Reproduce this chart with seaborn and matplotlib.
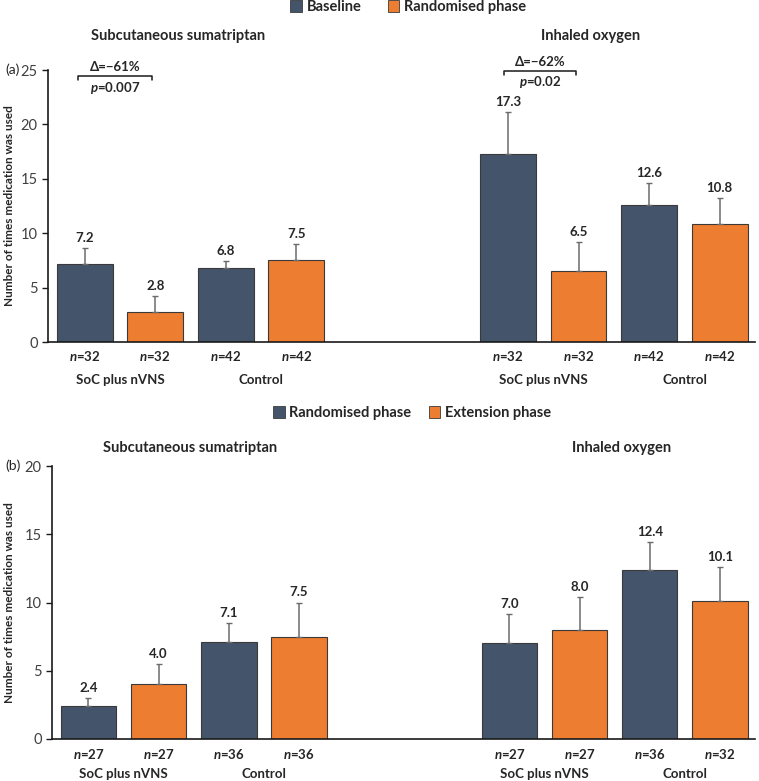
import matplotlib
matplotlib.use("Agg")
import matplotlib.pyplot as plt
import seaborn as sns
import pandas as pd
from matplotlib.patches import Patch

sns.set_style("white")
plt.rcParams['font.family'] = ['Lato', 'DejaVu Sans']
plt.rcParams['mathtext.fontset'] = 'custom'
plt.rcParams['mathtext.rm'] = 'Lato'
plt.rcParams['mathtext.it'] = 'Lato:italic:bold'
plt.rcParams['mathtext.bf'] = 'Lato:bold'

# ---- data ----
positions = [0, 1, 2, 3, 6, 7, 8, 9]
group_names = ["SoC plus nVNS", "Control", "SoC plus nVNS", "Control"]
group_pos = [0.5, 2.5, 6.5, 8.5]

top_series = ["Baseline", "Randomised phase"] * 4
top_values = [7.2, 2.8, 6.8, 7.5, 17.3, 6.5, 12.6, 10.8]
top_err = [1.4, 1.4, 0.65, 1.5, 3.8, 2.7, 2.0, 2.4]
top_n = ["32", "32", "42", "42", "32", "32", "42", "42"]

bot_series = ["Randomised phase", "Extension phase"] * 4
bot_values = [2.4, 4.0, 7.1, 7.5, 7.0, 8.0, 12.4, 10.1]
bot_err = [0.6, 1.5, 1.4, 2.5, 2.15, 2.4, 2.0, 2.5]
bot_n = ["27", "27", "36", "36", "27", "27", "36", "32"]

DARK = "#44546A"
ORANGE = "#ED7D31"

fig = plt.figure(figsize=(7.59, 7.81), dpi=100)
ax1 = fig.add_axes([48/759, 1-342/781, 707/759, 272/781])
ax2 = fig.add_axes([52/759, 1-739/781, 703/759, 273/781])


def draw(ax, series, values, err, ns, names, ymax, nofs, gofs):
    df = pd.DataFrame({"pos": positions, "value": values, "series": series})
    sns.barplot(data=df, x="pos", y="value", hue="series", native_scale=True,
                palette=[DARK, ORANGE], hue_order=names, dodge=False,
                saturation=1, width=0.79, edgecolor="#3a3a3a", linewidth=0.8,
                legend=False, ax=ax)
    ax.errorbar(positions, values, yerr=[[0]*len(values), err], fmt="none",
                ecolor="#6b6b6b", elinewidth=1.1, capsize=2.5, capthick=1.0,
                zorder=1)
    for x, v, e, n in zip(positions, values, err, ns):
        ax.annotate(f"{v:.1f}", (x, v + e), xytext=(0, 3),
                    textcoords="offset points", ha="center", va="bottom",
                    fontsize=9.5, fontweight="bold", color="#262626")
        ax.annotate(r"$\it{n}$" + f"={n}", (x, 0),
                    xycoords=("data", "axes fraction"),
                    xytext=(0, -nofs), textcoords="offset points",
                    ha="center", va="center", fontsize=9.5,
                    fontweight="bold", color="#262626")
    for gx, gn in zip(group_pos, group_names):
        ax.annotate(gn, (gx, 0), xycoords=("data", "axes fraction"),
                    xytext=(0, -gofs), textcoords="offset points",
                    ha="center", va="center", fontsize=9.5,
                    fontweight="bold", color="#262626")
    ax.set_xlim(-0.52, 9.5)
    ax.set_ylim(0, ymax)
    ax.set_yticks(range(0, ymax + 1, 5))
    ax.set_xticks([])
    ax.set_xlabel("")
    ax.set_ylabel("")
    sns.despine(ax=ax)
    for s in ["left", "bottom"]:
        ax.spines[s].set_color("#1a1a1a")
        ax.spines[s].set_linewidth(1.2)
    ax.tick_params(axis="y", direction="out", length=4, width=1,
                   color="#1a1a1a", labelsize=10.5, labelcolor="#404040",
                   left=True)


draw(ax1, top_series, top_values, top_err, top_n,
     ["Baseline", "Randomised phase"], 25, 10, 27)
draw(ax2, bot_series, bot_values, bot_err, bot_n,
     ["Randomised phase", "Extension phase"], 20, 11, 25)


def bracket(ax, x0, x1, y, dtxt, ptxt, dy_up, dy_dn):
    ax.plot([x0, x0, x1, x1], [y - 0.35, y, y, y - 0.35], color="#1a1a1a",
            lw=1.1, clip_on=False)
    ax.text((x0 + x1) / 2, y + dy_up, dtxt, ha="center", va="center",
            fontsize=9.5, fontweight="bold", color="#262626", clip_on=False)
    ax.text((x0 + x1) / 2, y - dy_dn, ptxt, ha="center", va="center",
            fontsize=9.5, fontweight="bold", color="#262626", clip_on=False)


bracket(ax1, -0.1, 0.96, 24.45, "Δ=−61%", r"$\it{p}$=0.007", 0.85, 1.15)
bracket(ax1, 5.94, 6.96, 24.9, "Δ=−62%", r"$\it{p}$=0.02", 0.85, 1.0)

# titles
for x, y, t in [(178, 36, "Subcutaneous sumatriptan"), (591, 36, "Inhaled oxygen"),
                (190, 448, "Subcutaneous sumatriptan"), (622, 448, "Inhaled oxygen")]:
    fig.text(x/759, 1-y/781, t, ha="center", va="center", fontsize=10.5,
             fontweight="bold", color="#262626")

fig.text(13/759, 1-70/781, "(a)", ha="center", va="center", fontsize=10,
         color="#262626")
fig.text(13/759, 1-466/781, "(b)", ha="center", va="center", fontsize=10,
         color="#262626")
for yc in [(70+342)/2, (466+739)/2]:
    fig.text(10/759, 1-yc/781, "Number of times medication was used",
             rotation=90, ha="center", va="center", fontsize=8.5,
             fontweight="bold", color="#262626")

# legends
fig.legend(handles=[Patch(facecolor=DARK, edgecolor="#3a3a3a", lw=0.6),
                    Patch(facecolor=ORANGE, edgecolor="#3a3a3a", lw=0.6)],
           labels=["Baseline", "Randomised phase"], ncol=2,
           loc="center", bbox_to_anchor=(408/759, 1-7/781), frameon=False,
           handlelength=0.8, handleheight=0.8, handletextpad=0.3,
           columnspacing=1.8, prop={"weight": "bold", "size": 10.5})
fig.legend(handles=[Patch(facecolor=DARK, edgecolor="#3a3a3a", lw=0.6),
                    Patch(facecolor=ORANGE, edgecolor="#3a3a3a", lw=0.6)],
           labels=["Randomised phase", "Extension phase"], ncol=2,
           loc="center", bbox_to_anchor=(412/759, 1-413/781), frameon=False,
           handlelength=0.8, handleheight=0.8, handletextpad=0.3,
           columnspacing=1.2, prop={"weight": "bold", "size": 10.5})

fig.savefig("out.png", dpi=100)
